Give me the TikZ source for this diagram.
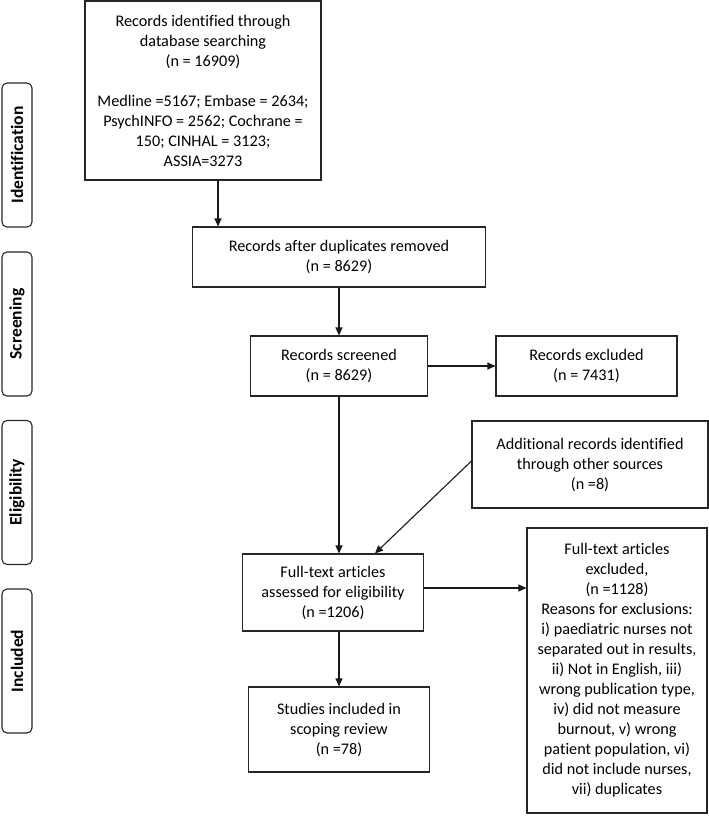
\documentclass[tikz,border=0pt]{standalone}
\usepackage{fontspec}
\setmainfont{Carlito}[Ligatures=NoCommon]
\usetikzlibrary{arrows.meta}
\begin{document}
\begin{tikzpicture}[x=1pt,y=-1pt,
  box/.style={draw=black!85,line width=1.1pt,align=center,inner sep=2pt,
    font=\fontsize{16.2}{20}\selectfont},
  side/.style={draw=black!85,line width=1.1pt,rounded corners=5pt,minimum width=30pt,
    minimum height=144pt,inner sep=0pt},
  sidetext/.style={rotate=90,font=\bfseries\fontsize{17.5}{19}\selectfont},
  arr/.style={line width=1.1pt,draw=black!90,-{Triangle[length=8pt,width=7pt]}}]
\useasboundingbox (0,0) rectangle (709,825);
\node[box,minimum width=236pt,minimum height=179pt] (b1) at (203,90.5)
  {Records identified through\\database searching\\(n = 16909)\\[20pt]Medline =5167; Embase = 2634;\\PsychINFO = 2562; Cochrane =\\150; CINHAL = 3123;\\ASSIA=3273};
\node[box,minimum width=293pt,minimum height=60pt] (b2) at (339,257)
  {Records after duplicates removed\\(n = 8629)};
\node[box,minimum width=177pt,minimum height=60pt] (b3) at (339,366)
  {Records screened\\(n = 8629)};
\node[box,minimum width=181pt,minimum height=60pt] (b4) at (586.5,366)
  {Records excluded\\(n = 7431)};
\node[box,minimum width=236pt,minimum height=87pt] (b5) at (590,464.5)
  {Additional records identified\\through other sources\\(n =8)};
\node[box,minimum width=181pt,minimum height=77pt] (b6) at (333,592.5)
  {Full-text articles\\assessed for eligibility\\(n =1206)};
\node[box,minimum width=180pt,minimum height=285pt] (b7) at (617,670.5)
  {Full-text articles\\excluded,\\(n =1128)\\Reasons for exclusions:\\i) paediatric nurses not\\separated out in results,\\ii) Not in English, iii)\\wrong publication type,\\iv) did not measure\\burnout, v) wrong\\patient population, vi)\\did not include nurses,\\vii) duplicates};
\node[box,minimum width=181pt,minimum height=85pt] (b8) at (339,729.5)
  {Studies included in\\scoping review\\(n =78)};
\node[side] (s1) at (17,155) {}; \node[sidetext] (t1) at (s1.center) {Identification};
\node[side] (s2) at (17,324) {}; \node[sidetext] (t2) at (s2.center) {Screening};
\node[side] (s3) at (17,492.5) {}; \node[sidetext] (t3) at (s3.center) {Eligibility};
\node[side] (s4) at (17,661) {}; \node[sidetext] (t4) at (s4.center) {Included};
\draw[arr] ([xshift=15pt]b1.south) -- ([xshift=15pt]b1.south |- b2.north);
\draw[arr] (b2.south) -- (b3.north);
\draw[arr] (b3.east) -- (b4.west);
\draw[arr] (b3.south) -- (b3.south |- b6.north);
\draw[arr] ([yshift=3.5pt]b5.west) -- ([xshift=42pt]b6.north);
\draw[arr] ([yshift=4.5pt]b6.east) -- ([yshift=4.5pt]b6.east -| b7.west);
\draw[arr] ([xshift=6pt]b6.south) -- ([xshift=6pt]b6.south |- b8.north);
\end{tikzpicture}
\end{document}
